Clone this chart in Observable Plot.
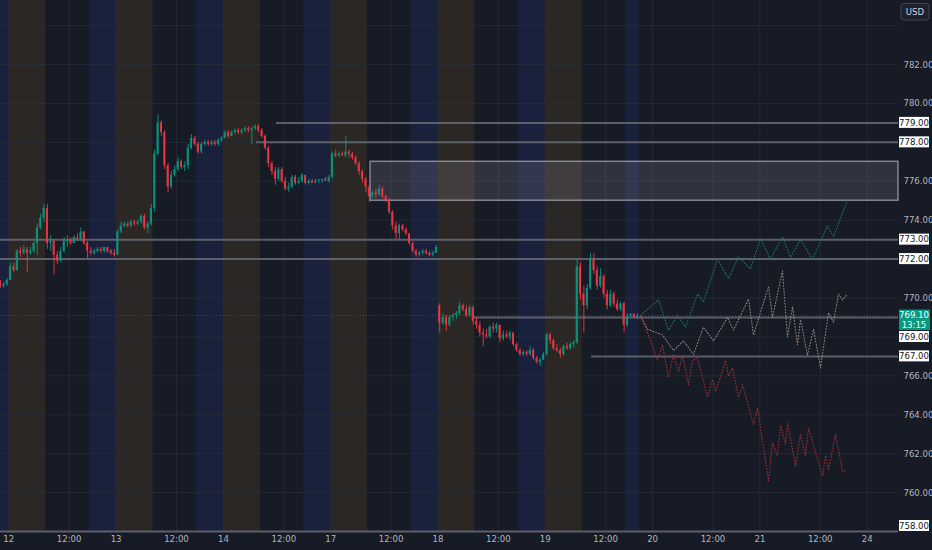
<!DOCTYPE html>
<html>
<head>
<meta charset="utf-8">
<script src="https://cdn.jsdelivr.net/npm/d3@7"></script>
<script src="https://cdn.jsdelivr.net/npm/@observablehq/plot@0.6"></script>
<style>
  html, body { margin: 0; padding: 0; background: #171b26; overflow: hidden; }
  #chart svg { display: block; }
</style>
</head>
<body>
<div id="chart"></div>
<script>
// ---------- DATA ----------
// 30-minute candles [open, high, low, close]; extended session 03:00-19:00 (chart time)
const day11Tail = [ // last 3 bars of the 11th (slots 29..31)
  [770.8,770.9,770.5,770.6],[770.6,770.8,770.5,770.7],[770.7,771.0,770.6,770.9]
];
const day12 = [
  [770.9,771.8,770.9,771.6],[771.6,771.8,771.3,771.4],[771.4,772.5,771.4,772.4],[772.4,772.6,772.1,772.3],
  [772.3,772.7,772.2,772.5],[772.5,772.6,771.3,772.3],[772.3,772.6,772.2,772.4],[772.4,772.9,772.3,772.8],
  [772.8,773.8,772.2,773.6],[773.6,774.3,773.5,774.1],[774.1,774.8,773.9,774.6],[774.6,774.8,772.5,772.8],
  [772.8,773.2,772.4,772.9],[772.9,773.0,771.2,772.2],[772.2,772.4,771.7,771.9],[771.9,772.6,771.8,772.4],
  [772.4,773.1,772.3,772.9],[772.9,773.2,772.6,773.0],[773.0,773.1,772.7,772.8],[772.8,773.2,772.8,773.1],
  [773.1,773.3,772.9,773.0],[773.0,773.6,772.9,773.4],[773.4,773.4,772.7,772.8],[772.8,772.9,772.0,772.4],
  [772.4,772.6,772.2,772.3],[772.3,772.5,772.2,772.4],[772.4,772.6,772.3,772.5],[772.5,772.6,772.3,772.4],
  [772.4,772.6,772.3,772.6],[772.6,772.6,772.3,772.4],[772.4,772.5,772.2,772.3],[772.3,772.5,772.1,772.2]
];
const day13 = [
  [772.2,773.5,772.2,773.4],[773.4,773.9,773.3,773.7],[773.7,773.9,773.6,773.8],[773.8,773.9,773.6,773.7],
  [773.7,774.0,773.6,773.9],[773.9,774.0,773.7,773.8],[773.8,774.0,773.7,773.9],[773.9,774.3,773.8,774.2],
  [774.2,774.3,773.5,773.6],[773.6,773.9,773.3,773.8],[773.8,774.8,773.7,774.6],[774.6,777.6,774.4,777.4],
  [777.4,779.4,777.3,779.0],[779.0,779.1,778.3,778.5],[778.5,778.6,776.6,776.8],[776.8,776.9,775.4,775.7],
  [775.7,776.5,775.6,776.3],[776.3,776.8,776.2,776.6],[776.6,777.2,776.5,777.0],[777.0,777.1,776.6,776.7],
  [776.7,777.0,776.5,776.8],[776.8,777.9,776.6,777.7],[777.7,778.4,777.6,778.2],[778.2,778.3,777.8,777.9],
  [777.9,778.0,777.4,777.5],[777.5,778.0,777.4,777.9],[777.9,778.1,777.8,778.0],[778.0,778.1,777.8,777.9],
  [777.9,778.1,777.8,778.0],[778.0,778.1,777.8,777.9],[777.9,778.2,777.8,778.1],[778.1,778.3,778.0,778.2]
];
const day14 = [
  [778.2,778.6,778.2,778.5],[778.5,778.6,778.2,778.3],[778.3,778.6,778.3,778.5],[778.5,778.7,778.4,778.6],
  [778.6,778.7,778.4,778.5],[778.5,778.7,778.4,778.6],[778.6,778.8,778.5,778.7],[778.7,778.8,778.5,778.6],
  [778.6,778.8,777.9,778.7],[778.7,778.9,778.6,778.8],[778.8,778.9,778.5,778.6],[778.6,778.7,778.2,778.3],
  [778.3,778.4,777.6,777.7],[777.7,777.8,776.7,776.9],[776.9,777.0,776.3,776.5],[776.5,776.7,775.8,776.1],
  [776.1,776.7,776.0,776.6],[776.6,776.7,775.9,776.0],[776.0,776.2,775.5,775.6],[775.6,775.9,775.4,775.7],
  [775.7,776.3,775.6,776.2],[776.2,776.3,775.8,775.9],[775.9,776.2,775.8,776.0],[776.0,776.4,775.9,776.3],
  [776.3,776.3,775.8,775.9],[775.9,776.1,775.8,776.0],[776.0,776.1,775.9,775.9],[775.9,776.1,775.9,776.0],
  [776.0,776.1,775.9,776.05],[776.05,776.1,775.9,776.1],[776.1,776.2,776.0,776.0],[776.0,776.3,775.9,776.2]
];
const day17 = [
  [776.2,777.5,776.1,777.4],[777.4,777.6,777.2,777.3],[777.3,777.5,777.2,777.4],[777.4,777.5,777.3,777.3],
  [777.3,778.3,777.2,777.5],[777.5,777.6,777.2,777.4],[777.4,777.5,777.1,777.2],[777.2,777.3,776.8,776.9],
  [776.9,777.0,776.3,776.5],[776.5,776.6,775.9,776.1],[776.1,776.2,775.4,775.7],[775.7,775.8,774.9,775.2],
  [775.2,775.5,775.1,775.4],[775.4,775.6,775.1,775.3],[775.3,775.8,775.2,775.6],[775.6,775.7,775.1,775.2],
  [775.2,775.3,774.9,775.0],[775.0,775.1,774.3,774.4],[774.4,774.5,773.5,773.7],[773.7,773.9,773.0,773.3],
  [773.3,773.8,773.0,773.7],[773.7,773.8,773.4,773.5],[773.5,773.6,773.2,773.3],[773.3,773.3,772.7,772.8],
  [772.8,772.9,772.3,772.4],[772.4,772.5,772.1,772.2],[772.2,772.4,772.1,772.3],[772.3,772.5,772.2,772.4],
  [772.4,772.5,772.2,772.3],[772.3,772.4,772.1,772.2],[772.2,772.4,772.1,772.3],[772.3,772.7,772.3,772.6]
];
const day18 = [
  [769.6,769.7,768.2,768.7],[768.7,769.2,768.6,769.0],[769.0,769.1,768.3,768.6],[768.6,769.1,768.5,769.0],
  [769.0,769.2,768.8,769.1],[769.1,769.3,768.9,769.2],[769.2,769.8,769.1,769.6],[769.6,769.7,769.3,769.4],
  [769.4,769.6,769.0,769.1],[769.1,769.6,769.0,769.5],[769.5,769.6,768.6,768.8],[768.8,769.0,768.4,768.6],
  [768.6,768.8,768.0,768.2],[768.2,768.4,767.5,768.1],[768.1,768.4,767.9,768.0],[768.0,768.6,767.9,768.5],
  [768.5,768.7,768.2,768.4],[768.4,768.7,768.2,768.6],[768.6,768.6,767.7,767.9],[767.9,768.3,767.8,768.1],
  [768.1,768.3,767.9,768.0],[768.0,768.3,767.8,768.2],[768.2,768.2,767.5,767.6],[767.6,767.7,767.2,767.3],
  [767.3,767.4,767.0,767.1],[767.1,767.3,767.0,767.2],[767.2,767.3,767.0,767.1],[767.1,767.5,767.0,767.3],
  [767.3,767.4,766.8,766.9],[766.9,767.0,766.6,766.7],[766.7,766.9,766.5,766.8],[766.8,767.2,766.8,767.1]
];
const day19 = [
  [767.1,768.2,767.0,768.1],[768.1,768.2,767.6,767.8],[767.8,767.9,767.3,767.4],[767.4,767.6,767.2,767.3],
  [767.3,767.4,766.9,767.1],[767.1,767.6,767.0,767.5],[767.5,767.7,767.3,767.4],[767.4,767.7,767.3,767.6],
  [767.6,767.8,767.4,767.7],[767.7,772.0,767.6,771.6],[771.6,771.8,769.9,770.2],[770.2,770.6,768.2,769.6],
  [769.6,770.7,769.4,770.5],[770.5,772.3,770.4,772.0],[772.0,772.3,771.2,771.4],[771.4,771.6,770.4,770.6],
  [770.6,771.5,770.5,771.1],[771.1,771.2,770.0,770.2],[770.2,770.4,769.4,769.6],[769.6,770.4,769.5,770.2],
  [770.2,770.3,769.5,769.7],[769.7,769.9,769.3,769.4],[769.4,769.8,769.3,769.7],[769.7,769.8,768.2,768.6],
  [768.6,769.2,768.5,769.05],[769.05,769.2,769.0,769.15],[769.15,769.2,769.0,769.0],[769.0,769.2,768.9,769.1]
];

// trading-day calendar (index = trading day since the 12th)
const dayLabels = ["12","13","14","17","18","19","20","21","24"];
const halfDayLabel = "12:00";
const sessionOpenHour = 3;           // chart-time session start
const preMarket = [3, 8.5];          // hours
const postMarket = [15, 19];         // hours
const hoursPerDay = 16;
const noonHour = 12;

// projected paths: [time in session hours since the 12th 03:00, price]
const projUp = [[94.20,769.1],[96.88,769.9],[98.37,768.35],[99.72,769.1],[100.91,768.5],[102.70,770.2],[103.59,769.8],[105.68,772.0],[107.32,771.0],[108.81,772.1],[110.60,771.5],[112.09,773.05],[113.58,772.0],[115.37,773.15],[116.57,772.1],[118.06,773.0],[119.85,772.0],[122.08,773.7],[122.98,773.15],[125.07,775.05]];
const projMid = [[94.20,769.1],[95.24,768.4],[97.48,768.1],[99.12,767.3],[100.61,767.8],[102.10,767.1],[103.59,768.5],[105.09,767.8],[107.17,769.0],[108.07,768.35],[110.30,769.95],[111.05,768.1],[113.29,770.6],[113.88,769.0],[115.37,771.4],[116.12,768.0],[116.87,769.55],[117.61,767.6],[118.06,768.9],[119.10,767.05],[120.00,768.4],[121.04,766.4],[122.23,769.25],[122.98,768.75],[123.72,770.2],[124.32,769.9],[125.07,770.2]];
const projDown = [[94.20,769.1],[95.99,767.55],[96.73,766.8],[97.48,767.6],[98.37,765.9],[99.12,767.1],[99.87,766.2],[100.46,767.05],[101.36,765.55],[101.95,766.8],[102.70,766.9],[104.19,764.9],[104.94,765.8],[105.38,765.2],[106.13,765.95],[106.87,766.8],[107.32,766.0],[107.92,766.4],[108.81,764.9],[109.41,765.55],[111.05,763.5],[111.65,764.35],[113.29,760.6],[113.88,762.55],[114.63,761.9],[115.08,763.45],[115.82,762.5],[116.12,763.6],[117.31,761.35],[118.06,763.0],[118.80,761.9],[119.25,763.3],[121.34,760.85],[121.79,761.9],[122.23,761.15],[123.28,763.0],[124.32,761.1],[124.77,761.1]];

// horizontal levels: price and the session-hour at which each line starts (null = from the left edge)
const levelPrices = [779, 778, 773, 772, 769, 767, 758];
const levelStarts = [39.92, 36.94, null, null, 69.3, 86.9, null];
const zonePrices = [775, 777];
const zoneStart = 53.94;
const lastPrice = 769.10;
const countdown = "13:15";
const currency = "USD";
const priceTicks = [758,760,762,764,766,768,770,772,774,776,778,780,782,784];
const shownPriceLabels = [760,762,764,766,770,774,776,780,782];

// ---------- BUILD ----------
const X_MIN = -1.238, X_MAX = 132.67, Y_MIN = 758, Y_MAX = 785.29;
const UP = "#089981", DOWN = "#f23645";

const sessions = [
  {day: -1, first: 29, rows: day11Tail},
  {day: 0, first: 0, rows: day12},
  {day: 1, first: 0, rows: day13},
  {day: 2, first: 0, rows: day14},
  {day: 3, first: 0, rows: day17},
  {day: 4, first: 0, rows: day18},
  {day: 5, first: 0, rows: day19}
];
const candles = sessions.flatMap(s => s.rows.map(([o,h,l,c], i) => ({
  t: s.day * hoursPerDay + (s.first + i) * 0.5, o, h, l, c,
  col: c >= o ? UP : DOWN
})));
const lastT = d3.max(candles, d => d.t) + 0.5;

const bands = [];
for (let d = -1; d <= 5; d++) {
  const base = d * hoursPerDay - sessionOpenHour;
  bands.push({x1: base + preMarket[0], x2: Math.min(base + preMarket[1], lastT), fill: "#2b2724"});
  bands.push({x1: base + postMarket[0], x2: Math.min(base + postMarket[1], lastT), fill: "#1a213d"});
}
const bandsVis = bands.filter(b => b.x2 > X_MIN && b.x1 < b.x2);

const xTicks = [];
dayLabels.forEach((lab, i) => {
  xTicks.push({u: i * hoursPerDay, label: lab});
  if (i < dayLabels.length - 1) xTicks.push({u: i * hoursPerDay + (noonHour - sessionOpenHour), label: halfDayLabel});
});

const levels = levelPrices.map((p, i) => ({price: p, from: levelStarts[i] == null ? X_MIN : levelStarts[i]}));

const font = "'Liberation Sans Narrow','DejaVu Sans Condensed','Liberation Sans',Arial,sans-serif";

const chart = Plot.plot({
  width: 932, height: 550,
  marginLeft: 0, marginRight: 34, marginTop: 0, marginBottom: 19,
  x: {domain: [X_MIN, X_MAX], axis: null},
  y: {domain: [Y_MIN, Y_MAX], axis: null},
  color: {type: "identity"},
  style: {background: "#171b26", color: "#b2b5be", fontFamily: font, fontSize: "9.5px", overflow: "visible"},
  marks: [
    Plot.rect(bandsVis, {x1: "x1", x2: "x2", fill: "fill", clip: true}),
    Plot.ruleY(priceTicks, {stroke: "#2a2e39", strokeOpacity: 0.75}),
    Plot.ruleX(xTicks, {x: "u", stroke: "#2a2e39", strokeOpacity: 0.75}),
    Plot.rect([{from: zoneStart, lo: zonePrices[0], hi: zonePrices[1]}], {
      x1: "from", x2: () => X_MAX, y1: "lo", y2: "hi",
      fill: "#9598a1", fillOpacity: 0.2, stroke: "#9598a1", strokeOpacity: 0.85, strokeWidth: 1.5
    }),
    Plot.ruleY([lastPrice], {stroke: UP, strokeOpacity: 0.5, strokeDasharray: "1,2"}),
    Plot.ruleY(levels, {y: "price", x1: "from", x2: () => X_MAX, stroke: "#686b75", strokeWidth: 2, strokeOpacity: 0.85}),
    Plot.ruleX(candles, {x: d => d.t + 0.25, y1: "l", y2: "h", stroke: "col", strokeWidth: 1, strokeOpacity: 0.9}),
    Plot.rect(candles, {
      x1: d => d.t + 0.1, x2: d => d.t + 0.4,
      y1: "o", y2: d => Math.abs(d.c - d.o) < 0.03 ? d.o + 0.04 : d.c,
      fill: "col", fillOpacity: 0.9
    }),
    Plot.line(projUp, {x: d => d[0], y: d => d[1], stroke: "#1f7d6c", strokeWidth: 1.1, strokeOpacity: 0.85, strokeDasharray: "1,2"}),
    Plot.line(projMid, {x: d => d[0], y: d => d[1], stroke: "#a09890", strokeWidth: 1.1, strokeOpacity: 0.8, strokeDasharray: "1,2"}),
    Plot.line(projDown, {x: d => d[0], y: d => d[1], stroke: "#a6303a", strokeWidth: 1.1, strokeOpacity: 0.85, strokeDasharray: "1,2"}),
    Plot.text(shownPriceLabels, {y: d => d, text: d => d.toFixed(2), frameAnchor: "right", dx: 5, textAnchor: "start", fill: "#b2b5be"}),
    Plot.text(xTicks, {x: "u", text: "label", frameAnchor: "bottom", dy: 10, fill: "#b2b5be"})
  ]
});
document.getElementById("chart").appendChild(chart);

// right-axis price boxes drawn from the plot's own y scale
const sy = chart.scale("y");
const svg = d3.select(chart);
const g = svg.append("g").attr("font-family", font).attr("font-size", "9.5px");
const BOX_X = 899, BOX_W = 30, BOX_H = 11;
const plotBottom = 550 - 19;

const greenY = sy.apply(lastPrice);
const greenTop = greenY - 5.5, greenBottom = greenY + 15;

levelPrices.forEach(p => {
  let yc = sy.apply(p);
  if (yc + BOX_H / 2 > plotBottom) yc = plotBottom - BOX_H / 2;
  if (yc - BOX_H / 2 < greenBottom + 1 && yc + BOX_H / 2 > greenTop) yc = greenBottom + 1 + BOX_H / 2;
  g.append("rect").attr("x", BOX_X).attr("y", yc - BOX_H / 2).attr("width", BOX_W).attr("height", BOX_H).attr("fill", "#ffffff");
  g.append("text").attr("x", BOX_X + BOX_W / 2).attr("y", yc).attr("dy", "0.35em").attr("text-anchor", "middle")
    .attr("fill", "#131722").text(p.toFixed(2));
});

g.append("rect").attr("x", BOX_X).attr("y", greenTop).attr("width", BOX_W + 1).attr("height", greenBottom - greenTop).attr("fill", UP);
g.append("text").attr("x", BOX_X + BOX_W / 2).attr("y", greenY).attr("dy", "0.35em").attr("text-anchor", "middle").attr("fill", "#ffffff").text(lastPrice.toFixed(2));
g.append("text").attr("x", BOX_X + BOX_W / 2).attr("y", greenY + 10).attr("dy", "0.35em").attr("text-anchor", "middle").attr("fill", "#ffffff").text(countdown);

g.append("rect").attr("x", 901).attr("y", 3.5).attr("width", 28).attr("height", 16.5).attr("rx", 3)
  .attr("fill", "#1e222d").attr("stroke", "#434651");
g.append("text").attr("x", 915).attr("y", 11.75).attr("dy", "0.35em").attr("text-anchor", "middle").attr("fill", "#d1d4dc").text(currency);
</script>
</body>
</html>
